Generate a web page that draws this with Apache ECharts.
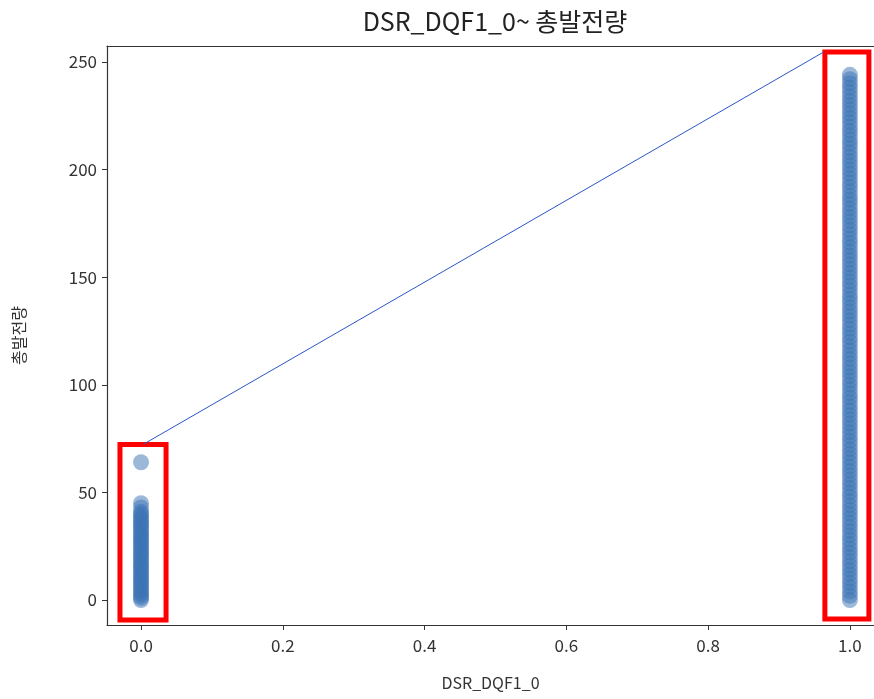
<!DOCTYPE html>
<html>
<head>
<meta charset="utf-8">
<script src="https://cdn.jsdelivr.net/npm/echarts@6/dist/echarts.min.js"></script>
<style>
  html, body { margin: 0; padding: 0; background: #fff; }
  #chart { width: 874px; height: 699px; }
</style>
</head>
<body>
<div id="chart"></div>
<script>
// 총발전량 for DSR_DQF1_0 == 0
const groupZero = [0, 1, 2, 3, 4, 5, 6, 7, 8, 9, 10, 11, 12, 13, 14, 15, 16, 17, 18, 19, 20, 21, 22, 23, 24, 25,
  26, 27, 28, 29, 30, 31, 32, 33, 34, 35, 36, 37, 38, 39, 40, 41, 43, 45, 64]
// 총발전량 for DSR_DQF1_0 == 1
const groupOne = [0, 2, 4, 6, 8, 10, 12, 14, 16, 18, 20, 22, 24, 26, 28, 30, 32, 34, 36, 38, 40, 42, 44, 46, 48,
  50, 52, 54, 56, 58, 60, 62, 64, 66, 68, 70, 72, 74, 76, 78, 80, 82, 84, 86, 88, 90, 92, 94, 96, 98,
  100, 102, 104, 106, 108, 110, 112, 114, 116, 118, 120, 122, 124, 126, 128, 130, 132, 134, 136, 138,
  140, 142, 144, 146, 148, 150, 152, 154, 156, 158, 160, 162, 164, 166, 168, 170, 172, 174, 176, 178,
  180, 182, 184, 186, 188, 190, 192, 194, 196, 198, 200, 202, 204, 206, 208, 210, 212, 214, 216, 218,
  220, 222, 224, 226, 228, 230, 232, 234, 236, 238, 240, 242, 244]
const xTicks = [0, 0.2, 0.4, 0.6, 0.8, 1.0]
const yTicks = [0, 50, 100, 150, 200, 250]
// red highlight boxes [[x0, y0], [x1, y1]] in data units
const boxes = [
  [[-0.0297, 72.3], [0.0353, -9.3]],
  [[0.9647, 254.6], [1.0268, -8.8]]
]
// connector line between the boxes
const connector = [[0.003, 72.3], [0.963, 254.6]]

const chart = echarts.init(document.getElementById('chart'), null, { renderer: 'canvas' })

const ptColor = 'rgba(60,115,180,0.64)'
const font = 'Noto Sans CJK KR'

const option = {
  animation: false,
  title: {
    text: 'DSR_DQF1_0~ 총발전량',
    left: 490,
    top: 4,
    textAlign: 'center',
    textStyle: { fontFamily: font, fontWeight: 'normal', fontSize: 25, color: '#222' }
  },
  grid: {
    left: 107,
    right: 0,
    top: 46,
    bottom: 74
  },
  xAxis: [
    {
      type: 'value',
      min: -0.048,
      max: 1.034,
      name: 'DSR_DQF1_0',
      nameLocation: 'middle',
      nameGap: 50,
      nameTextStyle: { fontFamily: font, fontSize: 16, color: '#333' },
      splitLine: { show: false },
      axisLine: { onZero: false, lineStyle: { color: '#333', width: 1.2 } },
      axisTick: { customValues: xTicks, length: 5, lineStyle: { color: '#333' } },
      axisLabel: {
        customValues: xTicks,
        formatter: v => v.toFixed(1),
        margin: 12,
        fontFamily: font,
        fontSize: 17,
        color: '#333'
      }
    },
    {
      // top spine only
      type: 'value',
      position: 'top',
      min: -0.048,
      max: 1.034,
      axisLine: { onZero: false, lineStyle: { color: '#333', width: 1.2 } },
      axisTick: { show: false },
      axisLabel: { show: false },
      splitLine: { show: false }
    }
  ],
  yAxis: {
    type: 'value',
    min: -11.6,
    max: 257.4,
    name: '총발전량',
    nameLocation: 'middle',
    nameRotate: 90,
    nameGap: 80,
    nameTextStyle: { fontFamily: font, fontSize: 16, color: '#333' },
    splitLine: { show: false },
    axisLine: { onZero: false, lineStyle: { color: '#333', width: 1.2 } },
    axisTick: { customValues: yTicks, length: 5, lineStyle: { color: '#333' } },
    axisLabel: {
      customValues: yTicks,
      margin: 10,
      fontFamily: font,
      fontSize: 17,
      color: '#333'
    }
  },
  series: [
    {
      type: 'scatter',
      symbolSize: 16,
      itemStyle: { color: ptColor },
      data: groupZero.map(v => [0, v])
    },
    {
      type: 'scatter',
      symbolSize: 16,
      itemStyle: { color: ptColor },
      data: groupOne.map(v => [1, v])
    },
    {
      type: 'line',
      symbol: 'none',
      lineStyle: { color: '#2a55c8', width: 1 },
      data: connector,
      z: 3,
      markArea: {
        silent: true,
        itemStyle: { color: 'rgba(0,0,0,0)', borderColor: '#ff0000', borderWidth: 5 },
        data: boxes.map(b => [{ coord: b[0] }, { coord: b[1] }])
      }
    }
  ]
}

chart.setOption(option)
</script>
</body>
</html>
